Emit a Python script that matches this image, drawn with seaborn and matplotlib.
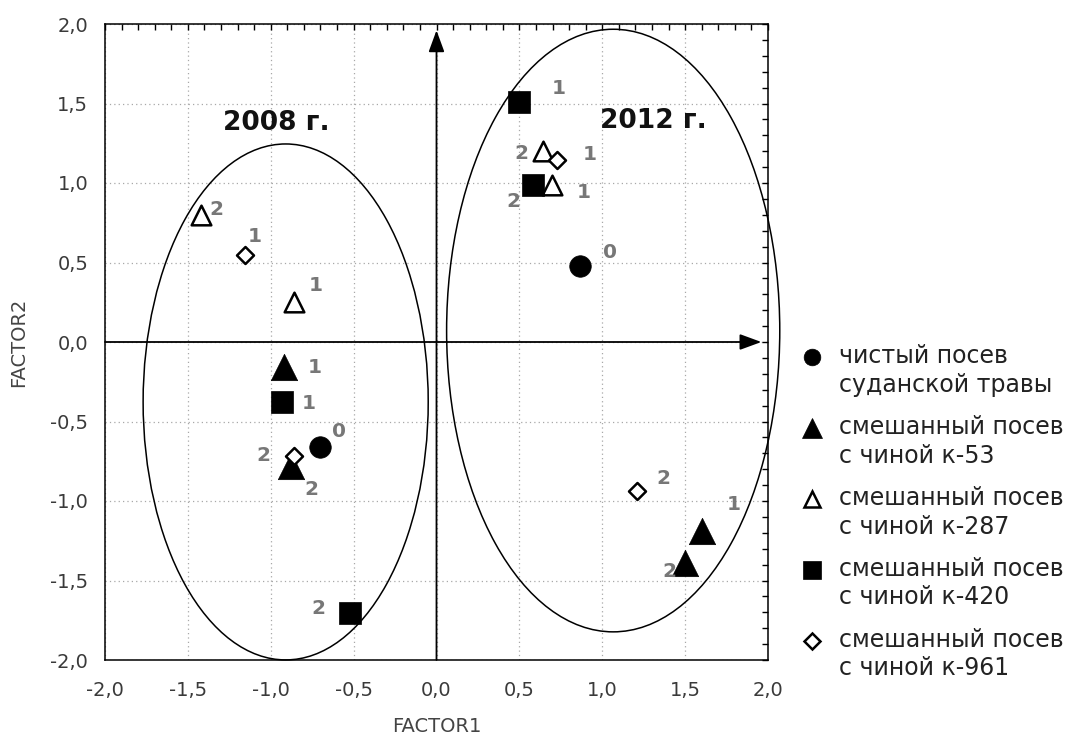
import numpy as np
import pandas as pd
import matplotlib
matplotlib.use("Agg")
import matplotlib.pyplot as plt
import seaborn as sns
from matplotlib.patches import Ellipse
from matplotlib.lines import Line2D
from matplotlib.ticker import MultipleLocator, FuncFormatter
from matplotlib.legend_handler import HandlerLine2D

# ---------------- data ----------------
variants = ["pure", "k53", "k287", "k420", "k961"]
legend_labels = [
    "чистый посев\nсуданской травы",
    "смешанный посев\nс чиной к-53",
    "смешанный посев\nс чиной к-287",
    "смешанный посев\nс чиной к-420",
    "смешанный посев\nс чиной к-961",
]

point_year = ["2008"] * 9 + ["2012"] * 9
point_variant = ["pure", "k53", "k53", "k287", "k287", "k420", "k420", "k961", "k961",
                 "pure", "k53", "k53", "k287", "k287", "k420", "k420", "k961", "k961"]
point_tag = ["0", "1", "2", "1", "2", "1", "2", "1", "2",
             "0", "1", "2", "1", "2", "1", "2", "1", "2"]
factor1 = [-0.70, -0.92, -0.875, -0.86, -1.42, -0.93, -0.52, -1.155, -0.86,
           0.865, 1.60, 1.50, 0.695, 0.64, 0.495, 0.58, 0.73, 1.21]
factor2 = [-0.66, -0.16, -0.78, 0.25, 0.80, -0.38, -1.705, 0.547, -0.715,
           0.475, -1.19, -1.39, 0.99, 1.20, 1.51, 0.99, 1.145, -0.935]

# label offsets (points) for the numeric tags
tag_offsets = [(13, 11), (22, 0), (14, -17), (16, 12), (11, 4), (19, -1), (-23, 3), (7, 13), (-22, 0),
               (22, 10), (23, 19), (-11, -6), (23, -6), (-15, -2), (29, 10), (-14, -12), (23, 4), (19, 9)]

# cluster ellipses (center x, center y, width, height) and titles
ellipse_names = ["2008 г.", "2012 г."]
ellipse_cx = [-0.91, 1.066]
ellipse_cy = [-0.377, 0.072]
ellipse_w = [1.72, 2.01]
ellipse_h = [3.245, 3.79]
title_x = [-0.967, 1.31]
title_y = [1.377, 1.39]

df = pd.DataFrame({"FACTOR1": factor1, "FACTOR2": factor2, "variant": point_variant,
                   "tag": point_tag, "year": point_year})

# ---------------- styles ----------------
styles = {
    "pure": dict(marker="o", s=240, facecolor="black", edgecolor="black", linewidth=0.5, ms=12),
    "k53": dict(marker="^", s=360, facecolor="black", edgecolor="black", linewidth=0.5, ms=15),
    "k287": dict(marker="^", s=200, facecolor="white", edgecolor="black", linewidth=1.8, ms=11),
    "k420": dict(marker="s", s=270, facecolor="black", edgecolor="black", linewidth=0.5, ms=13),
    "k961": dict(marker="D", s=75, facecolor="white", edgecolor="black", linewidth=1.8, ms=8),
}

sns.set_theme(style="white")
plt.rcParams["font.family"] = ["DejaVu Sans"]

fig = plt.figure(figsize=(10.8, 7.38), dpi=100)
ax = fig.add_axes([105 / 1080, 1 - 660 / 738, 663 / 1080, 636 / 738])

ax.set_xlim(-2, 2)
ax.set_ylim(-2, 2)

# grid
ax.xaxis.set_major_locator(MultipleLocator(0.5))
ax.yaxis.set_major_locator(MultipleLocator(0.5))
ax.xaxis.set_minor_locator(MultipleLocator(0.1))
ax.yaxis.set_minor_locator(MultipleLocator(0.1))
ax.grid(True, which="major", linestyle=(0, (1, 2.5)), color="#a8a8a8", linewidth=0.9, zorder=0)

fmt = FuncFormatter(lambda v, p: f"{v:.1f}".replace(".", ",").replace("−", "-"))
ax.xaxis.set_major_formatter(fmt)
ax.yaxis.set_major_formatter(fmt)
ax.tick_params(which="both", direction="in", top=True, right=True, length=4, width=1,
               colors="black", labelcolor="#3a3a3a", labelsize=14)
ax.tick_params(axis="x", which="major", pad=15)
ax.tick_params(axis="y", which="major", pad=12)

for sp in ax.spines.values():
    sp.set_color("black")
    sp.set_linewidth(1.1)

# zero axes with arrows
ax.annotate("", xy=(0, 1.96), xytext=(0, -2.0),
            arrowprops=dict(arrowstyle="-|>,head_length=0.6,head_width=0.22", color="black",
                            lw=1.3, mutation_scale=22, shrinkA=0, shrinkB=0), zorder=2)
ax.annotate("", xy=(1.96, 0), xytext=(-2.0, 0),
            arrowprops=dict(arrowstyle="-|>,head_length=0.6,head_width=0.22", color="black",
                            lw=1.3, mutation_scale=22, shrinkA=0, shrinkB=0), zorder=2)

# ellipses
for cx, cy, w, h in zip(ellipse_cx, ellipse_cy, ellipse_w, ellipse_h):
    ax.add_patch(Ellipse((cx, cy), w, h, fill=False, edgecolor="black", linewidth=1.1,
                         clip_on=False, zorder=3))
for name, tx, ty in zip(ellipse_names, title_x, title_y):
    ax.text(tx, ty, name, ha="center", va="center", fontsize=19, fontweight="bold",
            color="#111111", zorder=5)

# points
for v in variants:
    st = styles[v]
    sub = df[df["variant"] == v]
    sns.scatterplot(data=sub, x="FACTOR1", y="FACTOR2", ax=ax, marker=st["marker"], s=st["s"],
                    color=st["facecolor"], edgecolor=st["edgecolor"], linewidth=st["linewidth"],
                    zorder=6, legend=False)

# numeric tags
for x, y, t, off in zip(df["FACTOR1"], df["FACTOR2"], df["tag"], tag_offsets):
    ax.annotate(t, (x, y), xytext=off, textcoords="offset points", ha="center", va="center",
                fontsize=14.5, fontweight="bold", color="#777777", zorder=7)

ax.set_xlabel("FACTOR1", fontsize=14, color="#444444", labelpad=12)
ax.set_ylabel("FACTOR2", fontsize=14, color="#444444", labelpad=16)


class UpHandler(HandlerLine2D):
    """Place the legend marker next to the first line of a two-line label."""
    def create_artists(self, legend, orig_handle, xdescent, ydescent, width, height,
                       fontsize, trans):
        arts = super().create_artists(legend, orig_handle, xdescent, ydescent, width, height,
                                      fontsize, trans)
        for a in arts:
            a.set_ydata([y + 0.62 * fontsize for y in a.get_ydata()])
        return arts


handles = []
for v in variants:
    st = styles[v]
    handles.append(Line2D([], [], linestyle="none", marker=st["marker"], markersize=st["ms"],
                          markerfacecolor=st["facecolor"], markeredgecolor="black",
                          markeredgewidth=st["linewidth"] if st["facecolor"] == "white" else 0.5))

fs_leg = 17
leg = fig.legend(handles, legend_labels, loc="upper left", bbox_to_anchor=(800 / 1080, 1 - 344 / 738),
                 frameon=False, fontsize=fs_leg, handlelength=1.05, handletextpad=0.6,
                 labelspacing=0.78, borderpad=0, borderaxespad=0,
                 handler_map={Line2D: UpHandler()})
for t in leg.get_texts():
    t.set_linespacing(1.24)
    t.set_color("#222222")

fig.savefig("out.png", dpi=100)
